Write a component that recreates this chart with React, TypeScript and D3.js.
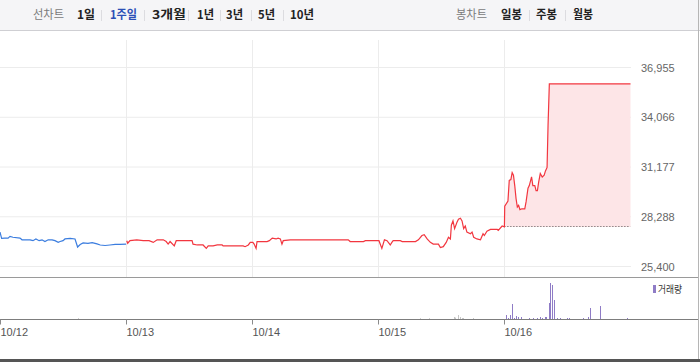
import React from "react";
import * as d3 from "d3";

// ---------- data ----------
const DAYS = ["10/12", "10/13", "10/14", "10/15", "10/16"];
const DAY_MIN = 390; // 09:00 - 15:30
const Y_TICKS = [25400, 28288, 31177, 34066, 36955];
const PREV_CLOSE = 27700;

// [minute since open, price]
const day1: [number, number][] = [
  [0, 27400], [5, 27030], [15, 27050], [25, 27050], [31, 27150], [40, 27100], [62, 27050], [68, 26950],
  [93, 26950], [102, 26900], [111, 27000], [121, 26900], [130, 26950], [139, 26850], [149, 26950],
  [161, 26950], [170, 26900], [180, 26800], [186, 26850], [195, 26900], [201, 27000], [217, 27030],
  [232, 27000], [240, 26530], [248, 26680], [257, 26770], [272, 26740], [285, 26790], [300, 26710],
  [310, 26650], [325, 26620], [340, 26650], [356, 26680], [371, 26680], [390, 26700],
];
const day2: [number, number][] = [
  [2, 26900], [5, 26750], [12, 26900], [33, 26950], [53, 26900], [71, 26900], [84, 26800], [96, 26950],
  [115, 26950], [124, 26850], [130, 26700], [136, 26850], [149, 26600], [155, 26900], [204, 26900],
  [207, 26700], [220, 26650], [238, 26650], [248, 26450], [254, 26600], [269, 26600], [282, 26650],
  [297, 26650], [300, 26600], [362, 26600], [368, 26550], [378, 26650], [384, 26800], [390, 26800],
];
const day3: [number, number][] = [
  [2, 26800], [6, 26700], [12, 26450], [15, 26850], [25, 26850], [46, 26850], [53, 26900], [62, 27050],
  [74, 27000], [80, 27050], [87, 27000], [92, 26700], [96, 26900], [118, 26950], [149, 26950],
  [242, 26950], [297, 26950], [303, 26850], [344, 26850], [350, 26900], [390, 26900],
];
const day4: [number, number][] = [
  [2, 26900], [11, 26450], [19, 26950], [27, 26900], [37, 26650], [42, 26800], [46, 26900], [68, 26900],
  [74, 26850], [105, 26850], [115, 26850], [124, 26950], [135, 27200], [142, 27250], [151, 27000],
  [161, 26800], [170, 26700], [186, 26700], [192, 26500], [201, 26550], [210, 26800], [217, 27100],
  [223, 27000], [226, 27800], [231, 28050], [236, 27600], [243, 27950], [248, 28150], [254, 28200],
  [259, 28050], [264, 27600], [269, 27750], [274, 27400], [285, 27300], [290, 27400], [295, 27100],
  [305, 27000], [316, 26950], [324, 27300], [328, 27200], [336, 27450], [347, 27550], [368, 27550],
  [371, 27500], [383, 27750], [390, 27700],
];
const day5: [number, number][] = [
  [1, 28900], [11, 29200], [15, 30400], [20, 30450], [24, 30850], [28, 30700], [32, 30100], [36, 29350],
  [40, 28850], [44, 28950], [48, 28700], [54, 28750], [63, 28750], [67, 29150], [73, 29950], [77, 30100],
  [84, 30600], [88, 30100], [94, 30100], [98, 29800], [102, 29800], [106, 30300], [111, 30800],
  [117, 30600], [123, 30700], [127, 30950], [132, 31150], [135, 33600], [139, 36000], [390, 36000],
];

// [day index, minute, volume (thousand shares)]
const volumes: [number, number, number][] = [
  [0, 241, 8],
  [3, 130, 8], [3, 156, 8], [3, 233, 20], [3, 236, 14], [3, 245, 40], [3, 252, 20], [3, 259, 10],
  [3, 262, 10], [3, 292, 10],
  [4, 6, 40], [4, 10, 10], [4, 16, 40], [4, 23, 150], [4, 29, 10], [4, 35, 30], [4, 41, 20], [4, 50, 20],
  [4, 75, 10], [4, 89, 10], [4, 101, 10], [4, 111, 20], [4, 117, 10], [4, 127, 20], [4, 130, 20],
  [4, 137, 160], [4, 142, 360], [4, 146, 340], [4, 153, 190], [4, 163, 10], [4, 171, 10], [4, 194, 10],
  [4, 199, 10], [4, 242, 10], [4, 258, 20], [4, 264, 110], [4, 297, 130], [4, 378, 10],
];

const LEFT_TABS = ["1일", "1주일", "3개월", "1년", "3년", "5년", "10년"];
const RIGHT_TABS = ["일봉", "주봉", "월봉"];

// ---------- layout ----------
const W = 700;
const H = 362;
const FONT_KR = "'Noto Sans CJK KR', 'Noto Sans', sans-serif";
const FONT_NUM = "'Liberation Sans', Arial, sans-serif";

const leftTabLayout = [
  { x: 77, w: 18 }, { x: 110, w: 27 }, { x: 152, w: 34 }, { x: 197, w: 17 },
  { x: 226, w: 17 }, { x: 258, w: 17 }, { x: 290, w: 24 },
];
const leftSeps = [101, 144, 188, 220, 251, 283];
const rightTabLayout = [{ x: 501, w: 21 }, { x: 536, w: 21 }, { x: 573, w: 20 }];
const rightSeps = [529, 565];

export default function App() {
  const x = d3.scaleLinear().domain([0, DAYS.length * DAY_MIN]).range([0, 630.5]);
  const y = d3.scaleLinear().domain([25400, 36955]).range([266.5, 67.5]);
  const yv = d3.scaleLinear().domain([0, 400]).range([319, 279]);

  const toPts = (arr: [number, number][], d: number) =>
    arr.map(([m, p]) => [d * DAY_MIN + m, p] as [number, number]);

  const bluePts = toPts(day1, 0);
  const redPts = [...toPts(day2, 1), ...toPts(day3, 2), ...toPts(day4, 3), ...toPts(day5, 4)];
  const lastPts = toPts(day5, 4);

  const line = d3.line<[number, number]>().x((d) => x(d[0])).y((d) => y(d[1]));
  const area = d3
    .area<[number, number]>()
    .x((d) => x(d[0]))
    .y0(y(PREV_CLOSE))
    .y1((d) => y(d[1]));
  const areaPts: [number, number][] = [[4 * DAY_MIN, lastPts[0][1]], ...lastPts];

  const dayX = DAYS.map((_, i) => Math.round(x(i * DAY_MIN)) + 0.5);

  return (
    <svg
      width={W}
      height={H}
      style={{ position: "absolute", left: 0, top: 0, background: "#fff" }}
    >
      {/* top tab bar */}
      <rect x={0} y={0} width={W} height={30} fill="#f5f5f7" />
      <line x1={0} x2={W} y1={30.5} y2={30.5} stroke="#cfcfd3" />
      <text x={33} y={19} fontFamily={FONT_KR} fontSize={12} fill="#7b7b7b" textLength={31} lengthAdjust="spacingAndGlyphs">
        선차트
      </text>
      {LEFT_TABS.map((t, i) => (
        <text
          key={t}
          x={leftTabLayout[i].x}
          y={19}
          fontFamily={FONT_KR}
          fontSize={12}
          fontWeight="bold"
          fill={t === "1주일" ? "#2c4fb6" : "#222"}
          textLength={leftTabLayout[i].w}
          lengthAdjust="spacingAndGlyphs"
        >
          {t}
        </text>
      ))}
      {leftSeps.map((s) => (
        <line key={s} x1={s + 0.5} x2={s + 0.5} y1={10} y2={21} stroke="#dcdce0" />
      ))}
      <text x={456} y={19} fontFamily={FONT_KR} fontSize={12} fill="#7b7b7b" textLength={31} lengthAdjust="spacingAndGlyphs">
        봉차트
      </text>
      {RIGHT_TABS.map((t, i) => (
        <text
          key={t}
          x={rightTabLayout[i].x}
          y={19}
          fontFamily={FONT_KR}
          fontSize={12}
          fontWeight="bold"
          fill="#222"
          textLength={rightTabLayout[i].w}
          lengthAdjust="spacingAndGlyphs"
        >
          {t}
        </text>
      ))}
      {rightSeps.map((s) => (
        <line key={s} x1={s + 0.5} x2={s + 0.5} y1={10} y2={21} stroke="#dcdce0" />
      ))}

      {/* price grid */}
      {Y_TICKS.map((t) => (
        <line key={t} x1={0} x2={631} y1={y(t)} y2={y(t)} stroke="#ececec" />
      ))}
      {dayX.slice(1).map((dx, i) => (
        <line key={i} x1={dx} x2={dx} y1={40} y2={277} stroke="#ececec" />
      ))}
      {Y_TICKS.map((t) => (
        <text
          key={t}
          x={641}
          y={y(t) + 4}
          fontFamily={FONT_NUM}
          fontSize={11}
          fill="#666"
        >
          {d3.format(",")(t)}
        </text>
      ))}

      {/* fill + lines */}
      <path d={area(areaPts) || ""} fill="#fde5e7" />
      <line
        x1={x(4 * DAY_MIN)}
        x2={x(5 * DAY_MIN)}
        y1={Math.round(y(PREV_CLOSE)) - 0.5}
        y2={Math.round(y(PREV_CLOSE)) - 0.5}
        stroke="#555"
        strokeDasharray="1,2"
      />
      <path d={line(bluePts) || ""} fill="none" stroke="#3b7ddf" strokeWidth={1.2} />
      <path d={line(redPts) || ""} fill="none" stroke="#f2363f" strokeWidth={1.2} />

      {/* panel separator */}
      <line x1={0} x2={698} y1={277.5} y2={277.5} stroke="#9a9a9a" />

      {/* volume */}
      {volumes.map(([d, m, v], i) => (
        <rect
          key={i}
          x={Math.round(x(d * DAY_MIN + m))}
          y={yv(v)}
          width={1}
          height={319 - yv(v)}
          fill={d === 4 ? "#8f7cc6" : "#c6c6c6"}
        />
      ))}
      <rect x={653} y={285} width={3} height={8} fill="#8f7cc6" />
      <text x={658} y={293} fontFamily={FONT_KR} fontSize={10} fill="#333" textLength={24} lengthAdjust="spacingAndGlyphs">
        거래량
      </text>

      {/* x axis */}
      <line x1={0} x2={698} y1={319.5} y2={319.5} stroke="#7d7d7d" />
      {dayX.map((dx, i) => (
        <g key={i}>
          <line x1={dx} x2={dx} y1={319.5} y2={324.5} stroke="#8a8a8a" />
          <text x={dx} y={336} fontFamily={FONT_NUM} fontSize={11} fill="#555">
            {DAYS[i]}
          </text>
        </g>
      ))}

      {/* frame */}
      <line x1={698.5} x2={698.5} y1={0} y2={360} stroke="#b5b5b5" />
      <rect x={0} y={359} width={W} height={3} fill="#555" />
    </svg>
  );
}
